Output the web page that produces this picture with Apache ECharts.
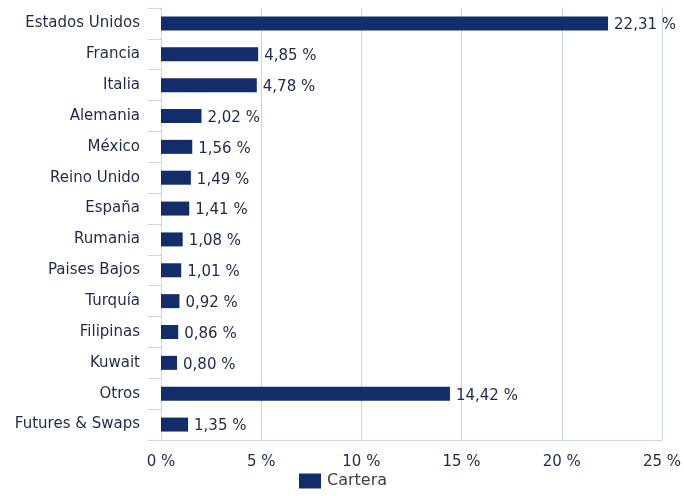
<!DOCTYPE html>
<html>
<head>
<meta charset="utf-8">
<style>
  body, html { margin: 0; padding: 0; width: 100%; height: 100%; overflow: hidden; background: #fff; }
  #chart { width: 684px; height: 496px; }
</style>
</head>
<body>
<div id="chart"></div>
<script src="https://cdn.jsdelivr.net/npm/echarts@6/dist/echarts.min.js"></script>
<script>
  // categories top -> bottom as in the picture
  const countries = [
    "Estados Unidos", "Francia", "Italia", "Alemania", "México", "Reino Unido",
    "España", "Rumania", "Paises Bajos", "Turquía", "Filipinas", "Kuwait",
    "Otros", "Futures & Swaps"
  ];
  const cartera = [22.31, 4.85, 4.78, 2.02, 1.56, 1.49, 1.41, 1.08, 1.01, 0.92, 0.86, 0.80, 14.42, 1.35];
  const xTicks = [0, 5, 10, 15, 20, 25];

  const textColor = "#1d2a4f";
  const barColor = "#132d6a";
  const lineColor = "#cbd5e4";
  const font = "'DejaVu Sans', Verdana, sans-serif";

  const chart = echarts.init(document.getElementById("chart"));

  const fmt = (v) => v.toFixed(2).replace(".", ",") + " %";

  chart.setOption({
    animation: false,
    textStyle: { fontFamily: font },
    grid: { left: 161, right: 21, top: 8, bottom: 56, containLabel: false },
    legend: {
      bottom: 2,
      left: 294,
      itemWidth: 22,
      itemHeight: 15,
      itemGap: 5,
      icon: "rect",
      data: ["Cartera"],
      textStyle: { color: "#3c3f48", fontSize: 16, fontFamily: font, padding: [0, 0, 0, 1] }
    },
    xAxis: {
      type: "value",
      min: xTicks[0],
      max: xTicks[xTicks.length - 1],
      interval: 5,
      axisLine: { show: true, lineStyle: { color: lineColor, width: 1 } },
      axisTick: { show: false },
      splitLine: { show: true, lineStyle: { color: lineColor, width: 1 } },
      axisLabel: {
        color: textColor,
        fontSize: 15,
        margin: 15,
        fontFamily: font,
        formatter: (v) => v + " %"
      }
    },
    yAxis: {
      type: "category",
      inverse: true,
      data: countries,
      axisLine: { show: true, lineStyle: { color: lineColor, width: 1 } },
      axisTick: { show: true, length: 13, alignWithLabel: false, lineStyle: { color: lineColor } },
      axisLabel: { color: textColor, fontSize: 15, margin: 21, fontFamily: font }
    },
    series: [{
      name: "Cartera",
      type: "bar",
      data: cartera,
      barWidth: 14,
      itemStyle: { color: barColor },
      label: {
        show: true,
        position: "right",
        distance: 6,
        color: textColor,
        fontSize: 15,
        fontFamily: font,
        offset: [0, 2],
        formatter: (p) => fmt(p.value)
      }
    }]
  });
</script>
</body>
</html>
